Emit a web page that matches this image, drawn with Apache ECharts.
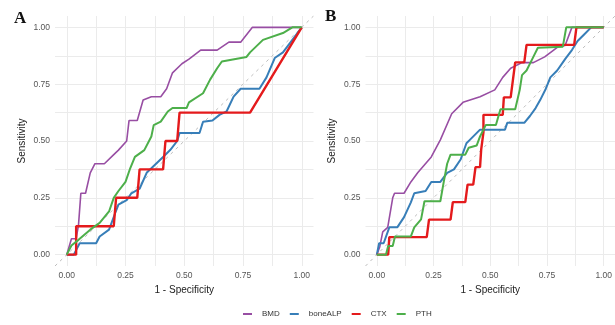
<!DOCTYPE html>
<html>
<head>
<meta charset="utf-8">
<script src="https://cdn.jsdelivr.net/npm/echarts@6/dist/echarts.min.js"></script>
<style>
  html, body { margin: 0; padding: 0; background: #fff; }
  #chart { width: 615px; height: 325px; }
</style>
</head>
<body>
<div id="chart"></div>
<script>
// ROC curves, [1 - specificity, sensitivity]
const markers = ['BMD', 'boneALP', 'CTX', 'PTH']
const colors = ['#984EA3', '#377EB8', '#E41A1C', '#4DAF4A']
const tickLabels = [0, 0.25, 0.5, 0.75, 1]
const gridBreaks = [0, 0.125, 0.25, 0.375, 0.5, 0.625, 0.75, 0.875, 1]
const refLine = [[-0.05, -0.05], [1.05, 1.05]]

// panel A
const aBMD = [[0,0],[0.02,0.07],[0.04,0.07],[0.05,0.13],[0.06,0.27],[0.08,0.27],[0.1,0.36],[0.12,0.4],[0.16,0.4],[0.2,0.44],[0.22,0.46],[0.255,0.5],[0.265,0.59],[0.3,0.59],[0.325,0.68],[0.36,0.695],[0.4,0.695],[0.425,0.73],[0.45,0.8],[0.49,0.84],[0.52,0.86],[0.57,0.9],[0.64,0.9],[0.69,0.935],[0.74,0.935],[0.79,1],[1,1]]
const aBoneALP = [[0,0],[0.03,0],[0.055,0.05],[0.125,0.05],[0.14,0.08],[0.18,0.11],[0.205,0.18],[0.22,0.22],[0.255,0.24],[0.275,0.27],[0.31,0.29],[0.34,0.36],[0.37,0.39],[0.41,0.43],[0.44,0.46],[0.47,0.5],[0.48,0.535],[0.565,0.535],[0.58,0.585],[0.62,0.59],[0.65,0.615],[0.68,0.63],[0.71,0.695],[0.74,0.73],[0.82,0.73],[0.85,0.78],[0.885,0.865],[0.92,0.89],[0.96,0.945],[1,1]]
const aCTX = [[0,0],[0.04,0],[0.04,0.125],[0.2,0.125],[0.21,0.25],[0.3,0.25],[0.31,0.375],[0.41,0.375],[0.42,0.5],[0.47,0.5],[0.48,0.625],[0.78,0.625],[1,1]]
const aPTH = [[0,0],[0.02,0.04],[0.05,0.065],[0.1,0.11],[0.14,0.14],[0.18,0.19],[0.2,0.25],[0.22,0.28],[0.25,0.32],[0.27,0.38],[0.29,0.43],[0.33,0.46],[0.36,0.52],[0.37,0.57],[0.4,0.585],[0.43,0.63],[0.45,0.645],[0.51,0.645],[0.52,0.67],[0.58,0.71],[0.61,0.77],[0.64,0.82],[0.66,0.85],[0.765,0.87],[0.78,0.89],[0.835,0.945],[0.92,0.975],[0.96,1],[1,1]]

// panel B
const bBMD = [[0,0],[0.013,0.035],[0.026,0.1],[0.048,0.12],[0.07,0.25],[0.078,0.27],[0.12,0.27],[0.15,0.32],[0.18,0.36],[0.24,0.43],[0.28,0.505],[0.33,0.62],[0.38,0.67],[0.455,0.695],[0.52,0.725],[0.555,0.78],[0.59,0.82],[0.64,0.845],[0.69,0.845],[0.74,0.87],[0.8,0.915],[0.83,0.92],[0.86,1],[1,1]]
const bBoneALP = [[0,0],[0.01,0.05],[0.03,0.05],[0.055,0.12],[0.09,0.12],[0.12,0.165],[0.15,0.23],[0.165,0.27],[0.215,0.28],[0.24,0.32],[0.28,0.32],[0.31,0.36],[0.34,0.375],[0.37,0.42],[0.395,0.49],[0.41,0.505],[0.455,0.55],[0.565,0.55],[0.575,0.58],[0.65,0.58],[0.675,0.61],[0.7,0.645],[0.72,0.68],[0.745,0.73],[0.765,0.78],[0.795,0.81],[0.83,0.86],[0.86,0.9],[0.885,0.94],[0.915,0.97],[0.945,1],[1,1]]
const bCTX = [[0,0],[0.05,0],[0.055,0.077],[0.22,0.077],[0.23,0.154],[0.325,0.154],[0.335,0.231],[0.39,0.231],[0.4,0.308],[0.425,0.308],[0.435,0.385],[0.455,0.385],[0.46,0.462],[0.47,0.538],[0.47,0.615],[0.555,0.615],[0.56,0.692],[0.59,0.692],[0.6,0.769],[0.61,0.846],[0.65,0.846],[0.66,0.923],[0.87,0.923],[0.88,1],[1,1]]
const bPTH = [[0,0],[0.04,0],[0.05,0.038],[0.07,0.038],[0.08,0.08],[0.15,0.08],[0.165,0.12],[0.195,0.155],[0.21,0.235],[0.28,0.235],[0.295,0.32],[0.31,0.4],[0.325,0.44],[0.39,0.44],[0.405,0.47],[0.44,0.48],[0.455,0.52],[0.48,0.57],[0.525,0.57],[0.545,0.64],[0.61,0.64],[0.63,0.725],[0.64,0.79],[0.66,0.81],[0.69,0.87],[0.71,0.91],[0.82,0.915],[0.835,1],[1,1]]

const panelA = [aBMD, aBoneALP, aCTX, aPTH]
const panelB = [bBMD, bBoneALP, bCTX, bPTH]
const widths = [1.6, 2, 2.4, 2]

const chart = echarts.init(document.getElementById('chart'))

function makeAxis(gridIndex, isX) {
  return {
    type: 'value',
    gridIndex: gridIndex,
    min: -0.05,
    max: 1.05,
    name: isX ? '1 - Specificity' : 'Sensitivity',
    nameLocation: 'middle',
    nameGap: isX ? 14 : 28,
    nameTextStyle: { color: '#222', fontSize: 10, fontFamily: 'Liberation Sans' },
    axisLine: { show: false },
    axisTick: { show: false, customValues: gridBreaks },
    axisLabel: {
      customValues: tickLabels,
      color: '#555',
      fontSize: 8.5,
      fontFamily: 'Liberation Sans',
      margin: 5,
      formatter: v => v.toFixed(2)
    },
    splitLine: { show: true, lineStyle: { color: '#ebebeb', width: 1 } }
  }
}

const series = []
;[panelA, panelB].forEach((panel, g) => {
  series.push({
    type: 'line',
    xAxisIndex: g,
    yAxisIndex: g,
    data: refLine,
    showSymbol: false,
    silent: true,
    lineStyle: { color: '#bdbdbd', width: 1, type: [3, 4] },
    z: 1
  })
  panel.forEach((d, i) => {
    series.push({
      name: markers[i],
      type: 'line',
      xAxisIndex: g,
      yAxisIndex: g,
      data: d,
      showSymbol: false,
      color: colors[i],
      lineStyle: { width: widths[i], color: colors[i] },
      z: 2 + i
    })
  })
})

const option = {
  animation: false,
  backgroundColor: '#fff',
  title: [
    { text: 'A', left: 9, top: 5, textStyle: { fontFamily: 'Liberation Serif', fontWeight: 'bold', fontSize: 17, color: '#111' } },
    { text: 'B', left: 320, top: 3, textStyle: { fontFamily: 'Liberation Serif', fontWeight: 'bold', fontSize: 17, color: '#111' } }
  ],
  grid: [
    { left: 55, top: 16, width: 258.5, height: 250 },
    { left: 365.5, top: 16, width: 253, height: 250 }
  ],
  xAxis: [makeAxis(0, true), makeAxis(1, true)],
  yAxis: [makeAxis(0, false), makeAxis(1, false)],
  legend: {
    data: markers,
    left: 238,
    top: 305,
    icon: 'rect',
    itemWidth: 9,
    itemHeight: 2,
    itemGap: 10,
    textStyle: { fontSize: 8, color: '#333', fontFamily: 'Liberation Sans', padding: [0, 0, 0, 5] }
  },
  series: series
}

chart.setOption(option)
</script>
</body>
</html>
